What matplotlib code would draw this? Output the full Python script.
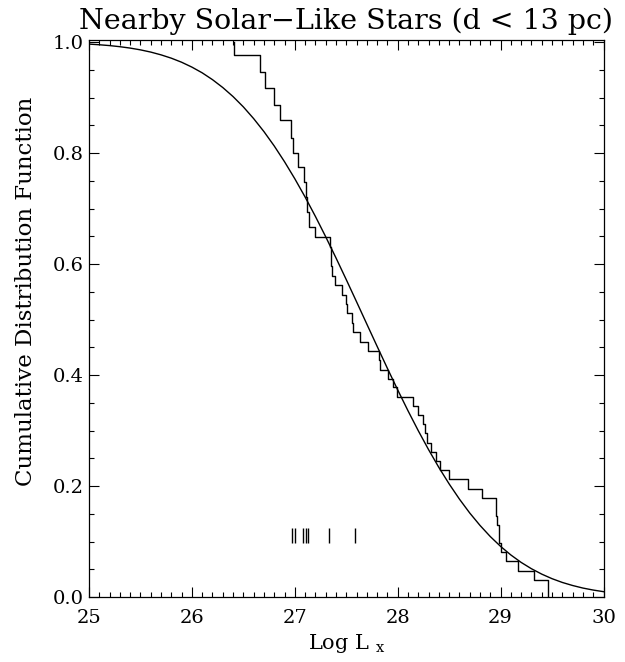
import numpy as np
import matplotlib.pyplot as plt
from matplotlib.ticker import MultipleLocator, FormatStrFormatter

plt.rcParams['font.family'] = ['DejaVu Serif']
plt.rcParams['mathtext.fontset'] = 'custom'
plt.rcParams['mathtext.rm'] = 'DejaVu Serif'

# Empirical distribution: position of each drop and the value after it
x_drop = [26.409, 26.665, 26.713, 26.801, 26.856, 26.963, 26.980, 27.028,
          27.089, 27.104, 27.116, 27.135, 27.199, 27.342, 27.347, 27.352,
          27.357, 27.391, 27.462, 27.495, 27.510, 27.553, 27.568, 27.634,
          27.714, 27.821, 27.826, 27.909, 27.957, 27.996, 28.144, 28.202,
          28.243, 28.270, 28.287, 28.327, 28.372, 28.411, 28.499, 28.683,
          28.816, 28.952, 28.960, 28.968, 28.980, 28.989, 29.001, 29.052,
          29.166, 29.325, 29.464]
cdf_after = [0.977, 0.947, 0.918, 0.887, 0.860, 0.828, 0.801, 0.775,
             0.748, 0.721, 0.694, 0.667, 0.648, 0.631, 0.614, 0.597,
             0.579, 0.562, 0.544, 0.528, 0.511, 0.494, 0.477, 0.460,
             0.443, 0.427, 0.410, 0.393, 0.378, 0.361, 0.345, 0.328,
             0.312, 0.295, 0.278, 0.262, 0.245, 0.229, 0.212, 0.195,
             0.179, 0.163, 0.146, 0.130, 0.114, 0.097, 0.081, 0.064,
             0.047, 0.031, 0.0]

# Smooth model curve
x_fit = [25.0, 25.1, 25.2, 25.3, 25.4, 25.5, 25.6, 25.7, 25.8, 25.9,
         26.0, 26.1, 26.2, 26.3, 26.4, 26.5, 26.6, 26.7, 26.8, 26.9,
         27.0, 27.1, 27.2, 27.3, 27.4, 27.5, 27.6, 27.7, 27.8, 27.9,
         28.0, 28.1, 28.2, 28.3, 28.4, 28.5, 28.6, 28.7, 28.8, 28.9,
         29.0, 29.1, 29.2, 29.3, 29.4, 29.5, 29.6, 29.7, 29.8, 29.9, 30.0]
y_fit = [0.9966, 0.9954, 0.9939, 0.9919, 0.9894, 0.9862, 0.9822, 0.9772,
         0.9712, 0.9639, 0.9551, 0.9448, 0.9325, 0.9183, 0.9020, 0.8834,
         0.8623, 0.8389, 0.8130, 0.7846, 0.7539, 0.7210, 0.6861, 0.6494,
         0.6113, 0.5721, 0.5322, 0.4919, 0.4518, 0.4121, 0.3733, 0.3357,
         0.2997, 0.2656, 0.2335, 0.2038, 0.1764, 0.1514, 0.1290, 0.1089,
         0.0912, 0.0757, 0.0623, 0.0509, 0.0412, 0.0330, 0.0262, 0.0207,
         0.0161, 0.0125, 0.0096]

# Upper limits
x_lim = [26.973, 27.005, 27.083, 27.112, 27.128, 27.335, 27.585]

fig = plt.figure(figsize=(6.25, 6.62), dpi=100)
ax = fig.add_axes([0.1424, 0.0982, 0.8232, 0.8414])

ax.step([x_drop[0]] + x_drop, [1.0] + cdf_after, where='post',
        color='black', linewidth=1.0)
ax.plot(x_fit, y_fit, color='black', linewidth=1.0)
ax.vlines(x_lim, 0.098, 0.124, color='black', linewidth=1.0)

ax.set_xlim(25, 30)
ax.set_ylim(0, 1.004)
ax.xaxis.set_major_locator(MultipleLocator(1))
ax.xaxis.set_minor_locator(MultipleLocator(0.1))
ax.yaxis.set_major_locator(MultipleLocator(0.2))
ax.yaxis.set_minor_locator(MultipleLocator(0.05))
ax.yaxis.set_major_formatter(FormatStrFormatter('%.1f'))
ax.tick_params(which='both', direction='in', top=True, right=True,
               labelsize=14, width=0.8)
ax.tick_params(which='major', length=7)
ax.tick_params(axis='x', which='major', pad=9)
ax.tick_params(axis='y', which='major', pad=4)
ax.tick_params(which='minor', length=3.5)
for s in ax.spines.values():
    s.set_linewidth(0.9)

ax.set_title('Nearby Solar\u2212Like Stars (d < 13 pc)', fontsize=20.5, pad=8)
ax.set_xlabel(r'Log L $_{\mathrm{x}}$', fontsize=15, labelpad=3)
ax.set_ylabel('Cumulative Distribution Function', fontsize=16.5)
ax.yaxis.set_label_coords(-0.102, 0.548)

plt.savefig('out.png', dpi=100)
